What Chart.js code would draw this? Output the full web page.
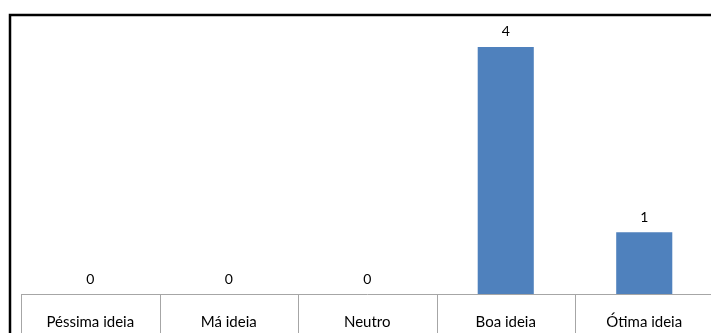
<!DOCTYPE html>
<html>
<head>
<meta charset="utf-8">
<script src="https://cdn.jsdelivr.net/npm/chart.js@4"></script>
<style>
  html, body { margin: 0; padding: 0; background: #fff; overflow: hidden; }
  #wrap { width: 720px; height: 333px; }
</style>
</head>
<body>
<div id="wrap"><canvas id="barChart" width="720" height="333"></canvas></div>
<script>
const categories = ['Péssima ideia', 'Má ideia', 'Neutro', 'Boa ideia', 'Ótima ideia'];
const votes = [0, 0, 0, 4, 1];

const FONT = 'Lato, "Open Sans", sans-serif';

// outer frame, separators under the axis and value labels
const extras = {
  id: 'extras',
  afterDraw(chart) {
    const ctx = chart.ctx;
    const x = chart.scales.x;
    const area = chart.chartArea;
    ctx.save();
    // category separators
    ctx.strokeStyle = '#A6A6A6';
    ctx.lineWidth = 1;
    for (let i = 0; i <= categories.length; i++) {
      const px = Math.round(x.getPixelForValue(i - 0.5)) + 0.5;
      ctx.beginPath();
      ctx.moveTo(px, area.bottom);
      ctx.lineTo(px, chart.height);
      ctx.stroke();
    }
    // value labels
    ctx.fillStyle = '#000';
    ctx.font = '14px ' + FONT;
    ctx.textAlign = 'center';
    ctx.textBaseline = 'middle';
    chart.getDatasetMeta(0).data.forEach((bar, i) => {
      ctx.fillText(String(votes[i]), bar.x, bar.y - 15);
    });
    // frame
    ctx.strokeStyle = '#000';
    ctx.lineWidth = 2.5;
    ctx.beginPath();
    ctx.moveTo(10, chart.height + 5);
    ctx.lineTo(10, 15);
    ctx.lineTo(chart.width + 5, 15);
    ctx.stroke();
    ctx.restore();
  }
};

new Chart(document.getElementById('barChart').getContext('2d'), {
  type: 'bar',
  data: {
    labels: categories,
    datasets: [{
      data: votes,
      backgroundColor: '#4F81BD',
      categoryPercentage: 1,
      barPercentage: 0.405,
    }],
  },
  options: {
    responsive: false,
    animation: false,
    layout: { padding: { left: 21, right: 6.5, top: 16, bottom: 0 } },
    plugins: {
      legend: { display: false },
      tooltip: { enabled: false },
    },
    scales: {
      x: {
        grid: { display: false, drawTicks: false },
        border: { display: true, color: '#A6A6A6', width: 1 },
        ticks: {
          color: '#000',
          font: { family: FONT, size: 15 },
          padding: 19,
          maxRotation: 0,
        },
        afterFit(scale) { scale.height = 39; },
      },
      y: {
        display: false,
        min: 0,
        max: 4.5,
      },
    },
  },
  plugins: [extras],
});
</script>
</body>
</html>
